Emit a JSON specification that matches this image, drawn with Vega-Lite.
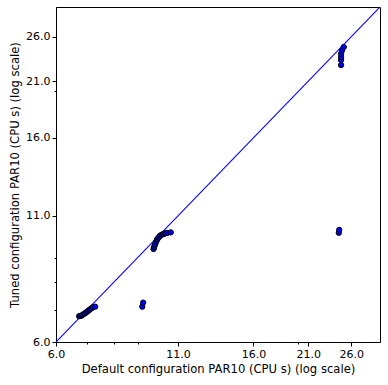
{
  "$schema": "https://vega.github.io/schema/vega-lite/v6.json",
  "width": 324,
  "height": 335,
  "autosize": {"type": "none"},
  "padding": {"left": 56, "top": 7, "right": 8, "bottom": 43},
  "config": {
    "font": "DejaVu Sans",
    "view": {"stroke": "black", "strokeWidth": 1},
    "axis": {
      "domainColor": "black", "tickColor": "black", "labelColor": "black", "titleColor": "black",
      "labelFont": "DejaVu Sans", "titleFont": "DejaVu Sans",
      "labelFontSize": 11, "titleFontSize": 11.6, "titleFontWeight": "normal",
      "grid": false, "labelPadding": 2, "labelFlush": false, "labelOverlap": false
    }
  },
  "layer": [
    {
      "data": {"values": [{"a": 6, "b": 6}, {"a": 30, "b": 30}]},
      "mark": {"type": "line", "color": "#0000ff", "strokeWidth": 1.1, "clip": true},
      "encoding": {
        "x": {"field": "a", "type": "quantitative", "scale": {"type": "log", "domain": [6, 30], "nice": false, "zero": false},
              "axis": {"title": "Default configuration PAR10 (CPU s) (log scale)", "titlePadding": 4,
                       "values": [6, 7, 8, 9, 11, 16, 20, 21, 26],
                       "labelExpr": "(datum.value == 6 || datum.value == 11 || datum.value == 16 || datum.value == 21 || datum.value == 26) ? format(datum.value, '.1f') : ''",
                       "tickSize": {"condition": {"test": "datum.value == 6 || datum.value == 11 || datum.value == 16 || datum.value == 21 || datum.value == 26", "value": 4}, "value": 2}}},
        "y": {"field": "b", "type": "quantitative", "scale": {"type": "log", "domain": [6, 30], "nice": false, "zero": false},
              "axis": {"title": "Tuned configuration PAR10 (CPU s) (log scale)", "titlePadding": 5,
                       "values": [6, 7, 8, 9, 11, 16, 20, 21, 26],
                       "labelExpr": "(datum.value == 6 || datum.value == 11 || datum.value == 16 || datum.value == 21 || datum.value == 26) ? format(datum.value, '.1f') : ''",
                       "tickSize": {"condition": {"test": "datum.value == 6 || datum.value == 11 || datum.value == 16 || datum.value == 21 || datum.value == 26", "value": 4}, "value": 2}}}
      }
    },
    {
      "data": {"values": [
        {"default": 6.73, "tuned": 6.79},
        {"default": 6.76, "tuned": 6.80},
        {"default": 6.80, "tuned": 6.81},
        {"default": 6.84, "tuned": 6.83},
        {"default": 6.88, "tuned": 6.86},
        {"default": 6.92, "tuned": 6.88},
        {"default": 6.96, "tuned": 6.91},
        {"default": 7.00, "tuned": 6.94},
        {"default": 7.04, "tuned": 6.97},
        {"default": 7.08, "tuned": 7.00},
        {"default": 7.12, "tuned": 7.03},
        {"default": 7.16, "tuned": 7.06},
        {"default": 7.21, "tuned": 7.09},
        {"default": 7.29, "tuned": 7.11},
        {"default": 9.21, "tuned": 7.11},
        {"default": 9.25, "tuned": 7.25},
        {"default": 9.74, "tuned": 9.38},
        {"default": 9.76, "tuned": 9.45},
        {"default": 9.79, "tuned": 9.53},
        {"default": 9.82, "tuned": 9.60},
        {"default": 9.86, "tuned": 9.70},
        {"default": 9.90, "tuned": 9.78},
        {"default": 9.93, "tuned": 9.84},
        {"default": 9.98, "tuned": 9.90},
        {"default": 10.03, "tuned": 9.96},
        {"default": 10.07, "tuned": 10.00},
        {"default": 10.13, "tuned": 10.04},
        {"default": 10.20, "tuned": 10.07},
        {"default": 10.26, "tuned": 10.09},
        {"default": 10.32, "tuned": 10.11},
        {"default": 10.42, "tuned": 10.13},
        {"default": 10.61, "tuned": 10.16},
        {"default": 24.45, "tuned": 10.14},
        {"default": 24.5, "tuned": 10.28},
        {"default": 24.73, "tuned": 22.7},
        {"default": 24.73, "tuned": 23.26},
        {"default": 24.73, "tuned": 23.6},
        {"default": 24.73, "tuned": 23.97},
        {"default": 24.85, "tuned": 24.36},
        {"default": 25.06, "tuned": 24.75}
      ]},
      "mark": {"type": "point", "shape": "circle", "filled": true, "fill": "#0000ff", "stroke": "black", "strokeWidth": 1, "size": 28, "opacity": 1},
      "encoding": {
        "x": {"field": "default", "type": "quantitative", "scale": {"type": "log", "domain": [6, 30], "nice": false, "zero": false}},
        "y": {"field": "tuned", "type": "quantitative", "scale": {"type": "log", "domain": [6, 30], "nice": false, "zero": false}}
      }
    }
  ]
}
